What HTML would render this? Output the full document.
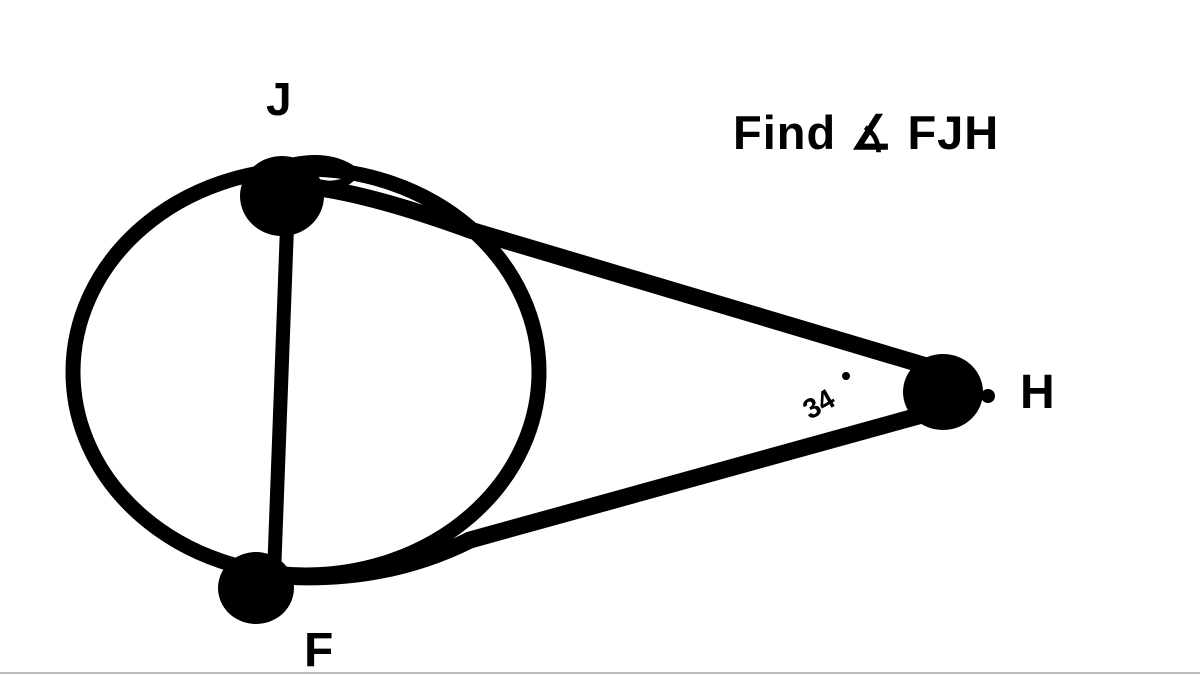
<!DOCTYPE html>
<html><head><style>
html,body{margin:0;padding:0;background:#fff;}
body{width:1200px;height:675px;overflow:hidden;position:relative;}
svg{position:absolute;left:0;top:0;}
text{font-family:"Liberation Sans",sans-serif;font-weight:bold;fill:#000;}
</style></head><body>
<svg width="1200" height="675" viewBox="0 0 1200 675">
<rect width="1200" height="675" fill="#fff"/>
<ellipse cx="306" cy="372" rx="233" ry="203" fill="none" stroke="#000" stroke-width="15"/>
<line x1="288" y1="200" x2="274" y2="575" stroke="#000" stroke-width="14" stroke-linecap="round"/>
<path d="M295 185 Q360 190 470 230 L940 370" fill="none" stroke="#000" stroke-width="17" stroke-linecap="round"/>
<path d="M270 575 Q380 585 470 540 L940 410" fill="none" stroke="#000" stroke-width="17" stroke-linecap="round"/>
<path d="M270 168 Q320 150 350 168 Q360 185 320 185" fill="none" stroke="#000" stroke-width="8"/>
<ellipse cx="282" cy="196" rx="42" ry="40" fill="#000"/>
<ellipse cx="256" cy="588" rx="38" ry="36" fill="#000"/>
<ellipse cx="943" cy="392" rx="40" ry="38" fill="#000"/>
<circle cx="988" cy="396" r="7" fill="#000"/>
<text x="266" y="115" font-size="46">J</text>
<text x="733" y="149" font-size="47" letter-spacing="1">Find ∡ FJH</text>
<text x="1020" y="408" font-size="48">H</text>
<text x="304" y="666" font-size="48">F</text>
<text x="0" y="0" font-size="28" transform="translate(810,420) rotate(-30)">34</text>
<circle cx="846" cy="376" r="4" fill="#000"/>
<line x1="0" y1="673" x2="1200" y2="673" stroke="#bbb" stroke-width="2"/>
</svg>
</body></html>
